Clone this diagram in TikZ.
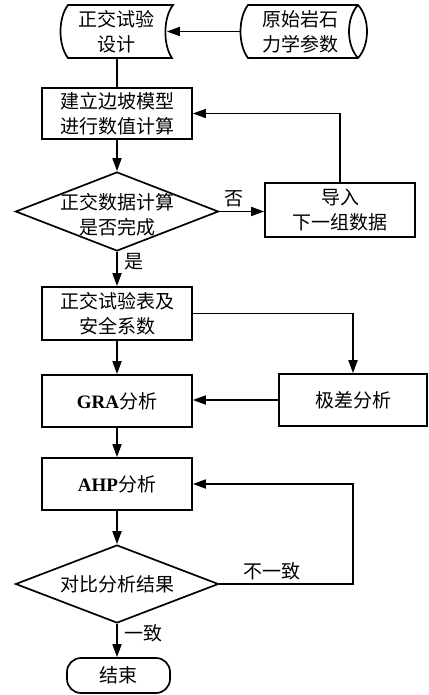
\documentclass[tikz,border=0pt]{standalone}
\usepackage{fontspec}
\setmainfont{Liberation Serif}
\newfontfamily\cjk{Noto Sans CJK SC}
\usetikzlibrary{arrows.meta,shapes.geometric}
\tikzset{
  base/.style={font=\cjk\fontsize{19}{25}\selectfont, align=center, inner sep=0pt},
  procbox/.style={base, draw, rectangle, minimum width=150pt, minimum height=52pt},
  decide/.style={draw, diamond, inner sep=0pt, minimum width=203pt, minimum height=78pt},
  ghost/.style={base, rectangle, minimum height=53pt},
  termbox/.style={base, draw, rectangle, rounded corners=14pt, minimum width=103pt, minimum height=35pt},
  lbl/.style={font=\cjk\fontsize{19}{25}\selectfont, inner sep=0pt},
  arr/.style={-{Triangle[length=13pt,width=9pt]}},
}
\begin{document}
\begin{tikzpicture}[x=1pt,y=-1pt,line width=1.7pt]
\useasboundingbox (0,0) rectangle (428,695);
% stored data shape
\draw (68,5) -- (173,5) .. controls (163,18) and (163,45) .. (172,58) -- (68,58)
      .. controls (58,45) and (58,18) .. (68,5) -- cycle;
\node[ghost, minimum width=100pt] (design) at (116,31.5) {正交试验\\设计};
% direct access storage shape
\draw (248,5) -- (358,5) .. controls (370,18) and (370,45) .. (358,58) -- (248,58)
      .. controls (238,45) and (238,18) .. (248,5) -- cycle;
\draw (358,5) .. controls (346,18) and (346,45) .. (358,58);
\node[ghost, minimum width=116pt] (param) at (300,31.5) {原始岩石\\力学参数};

\node[procbox, minimum height=51pt] (model) at (117,113.5) {建立边坡模型\\进行数值计算};
\node[decide, minimum height=79pt] (check) at (117,211.5) {};
\node[base] at (117,215) {正交数据计算\\是否完成};
\node[procbox, minimum height=54pt] (import) at (340,210) {导入\\下一组数据};
\node[procbox, minimum height=53pt] (table) at (117,313.5) {正交试验表及\\安全系数};
\node[procbox] (gra) at (117,401) {{\bfseries\rmfamily GRA}分析};
\node[procbox, minimum width=148pt] (range) at (353,400) {极差分析};
\node[procbox] (ahp) at (117,484) {{\bfseries\rmfamily AHP}分析};
\node[decide] (cmp) at (117,584) {};
\node[base] at (117,584) {对比分析结果};
\node[termbox] (end) at (118.5,675.5) {结束};

% connectors
\draw[arr] (param.west) -- (design.east);
\draw (design.south -| model.north) -- (model.north);
\draw[arr] (model.south) -- (check.north);
\draw[arr] (check.east) -- (check.east -| import.west);
\draw[arr] (import.north) |- (model.east);
\draw[arr] (check.south) -- (table.north);
\draw[arr] (table.east) -| (range.north);
\draw[arr] (table.south) -- (gra.north);
\draw[arr] (range.west) -- (range.west -| gra.east);
\draw[arr] (gra.south) -- (ahp.north);
\draw[arr] (ahp.south) -- (cmp.north);
\coordinate (back) at (353,584);
\draw[arr] (cmp.east) -- (back) |- (ahp.east);
\draw[arr] (cmp.south) -- (cmp.south |- end.north);

\node[lbl] at (234,199) {否};
\node[lbl] at (134,262) {是};
\node[lbl] at (272,571) {不一致};
\node[lbl] at (143,633) {一致};
\end{tikzpicture}
\end{document}
